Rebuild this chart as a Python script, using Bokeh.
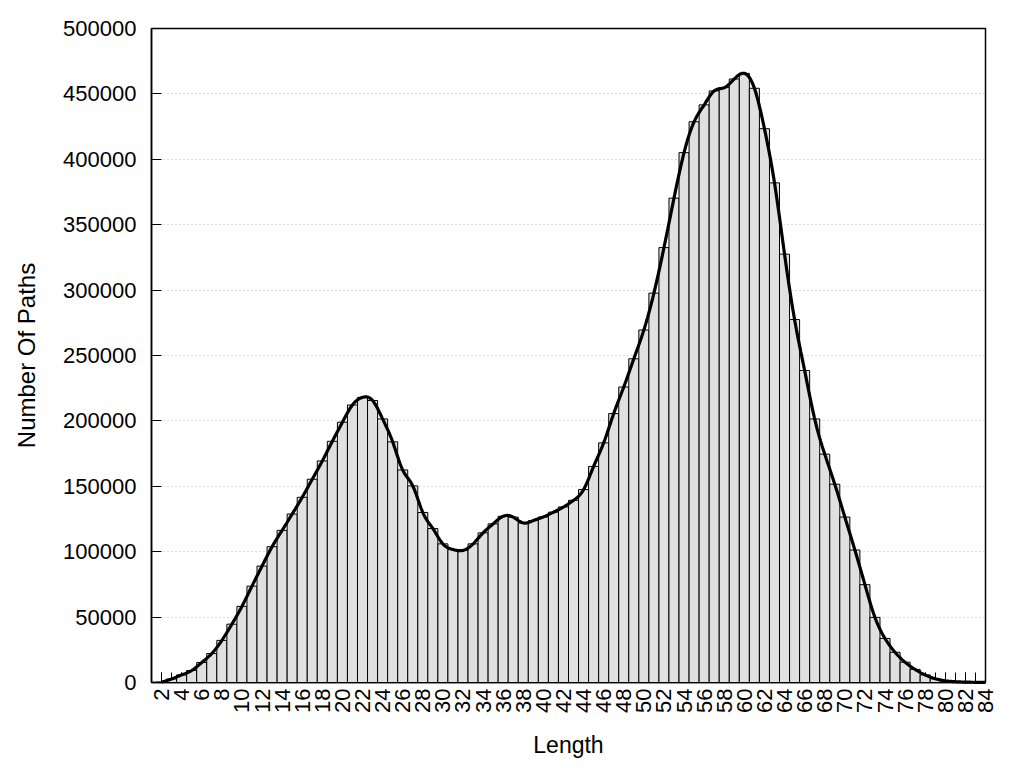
import math
import numpy as np
from bokeh.plotting import figure
from bokeh.models import FixedTicker, BasicTickFormatter, Range1d, ColumnDataSource
from bokeh.embed import file_html
from bokeh.resources import INLINE

# ---- data ----
lengths = list(range(2, 85))
counts = [
    300, 2700, 5800, 9200, 15300, 22200, 32200, 44600, 58200, 73700,      # 2-11
    89000, 103800, 116300, 128800, 141600, 155400, 169400, 184400, 199000, 212200,  # 12-21
    218000, 215600, 201500, 184000, 162500, 150300, 130000, 117700, 106000, 101700,  # 22-31
    101000, 106000, 114400, 121300, 127100, 126400, 122000, 123800, 126600, 130200,  # 32-41
    134200, 139300, 147500, 165200, 183200, 205600, 225900, 247500, 269500, 297700,  # 42-51
    332500, 370300, 405100, 428700, 441600, 452300, 454800, 461400, 465700, 454300,  # 52-61
    423400, 382000, 327500, 277500, 238500, 201500, 174600, 151600, 126500, 101300,  # 62-71
    74800, 49800, 33700, 23100, 15500, 10000, 5800, 2900, 1300, 600,              # 72-81
    300, 150, 60,                                                                  # 82-84
]
y_ticks = list(range(0, 500001, 50000))
x_label_ticks = list(range(2, 85, 2))
x_minor_ticks = list(range(2, 85))


def natural_cspline(x, y, xs):
    x = np.asarray(x, float)
    y = np.asarray(y, float)
    n = len(x)
    h = np.diff(x)
    A = np.zeros((n, n))
    b = np.zeros(n)
    A[0, 0] = 1.0
    A[-1, -1] = 1.0
    for i in range(1, n - 1):
        A[i, i - 1] = h[i - 1]
        A[i, i] = 2 * (h[i - 1] + h[i])
        A[i, i + 1] = h[i]
        b[i] = 6 * ((y[i + 1] - y[i]) / h[i] - (y[i] - y[i - 1]) / h[i - 1])
    M = np.linalg.solve(A, b)
    idx = np.clip(np.searchsorted(x, xs) - 1, 0, n - 2)
    x0, x1 = x[idx], x[idx + 1]
    y0, y1 = y[idx], y[idx + 1]
    m0, m1 = M[idx], M[idx + 1]
    hh = x1 - x0
    t0 = x1 - xs
    t1 = xs - x0
    return (m0 * t0 ** 3 / (6 * hh) + m1 * t1 ** 3 / (6 * hh)
            + (y0 / hh - m0 * hh / 6) * t0 + (y1 / hh - m1 * hh / 6) * t1)


xs = np.linspace(lengths[0], lengths[-1], 1700)
ys = natural_cspline(lengths, counts, xs)

src = ColumnDataSource(dict(length=lengths, count=counts))

FONT = "Liberation Sans"

p = figure(width=1000, height=760, output_backend="svg", toolbar_location=None,
           x_range=Range1d(1, 84), y_range=Range1d(0, 500000),
           min_border_left=151, min_border_right=15, min_border_top=28,
           min_border_bottom=78)

# bars drawn above the axis so inward x ticks hide behind them
p.vbar(x="length", top="count", width=1, source=src,
       fill_color="#e0e0e0", line_color="black", line_width=1, level="overlay")
p.line(xs, ys, line_color="black", line_width=3.2, level="overlay")

p.outline_line_color = "black"
p.outline_line_width = 1.5

# grids
p.xgrid.visible = False
p.ygrid.grid_line_color = "#bbbbbb"
p.ygrid.grid_line_dash = "1 3"
p.ygrid.grid_line_width = 1

# x axis
xa = p.xaxis[0]
xa.ticker = FixedTicker(ticks=x_label_ticks, minor_ticks=x_minor_ticks)
xa.major_label_orientation = math.pi / 2
xa.major_tick_in = 10
xa.major_tick_out = 0
xa.minor_tick_in = 10
xa.minor_tick_out = 0
xa.major_tick_line_color = "black"
xa.minor_tick_line_color = "black"
xa.axis_line_color = "black"
xa.axis_line_width = 1.5
xa.major_label_standoff = 6
xa.axis_label = "Length"
xa.axis_label_standoff = 16

# y axis
ya = p.yaxis[0]
ya.ticker = FixedTicker(ticks=y_ticks)
ya.formatter = BasicTickFormatter(use_scientific=False)
ya.major_tick_in = 10
ya.major_tick_out = 0
ya.minor_tick_line_color = None
ya.major_tick_line_color = "black"
ya.axis_line_color = "black"
ya.axis_line_width = 1.5
ya.major_label_standoff = 15
ya.axis_label = "Number Of Paths"
ya.axis_label_standoff = 20

for ax in (xa, ya):
    ax.major_label_text_font = FONT
    ax.major_label_text_font_size = "22px"
    ax.major_label_text_color = "black"
    ax.axis_label_text_font = FONT
    ax.axis_label_text_font_style = "normal"
    ax.axis_label_text_color = "black"
xa.axis_label_text_font_size = "23px"
ya.axis_label_text_font_size = "24px"

open("out.html", "w").write(file_html(p, INLINE))
